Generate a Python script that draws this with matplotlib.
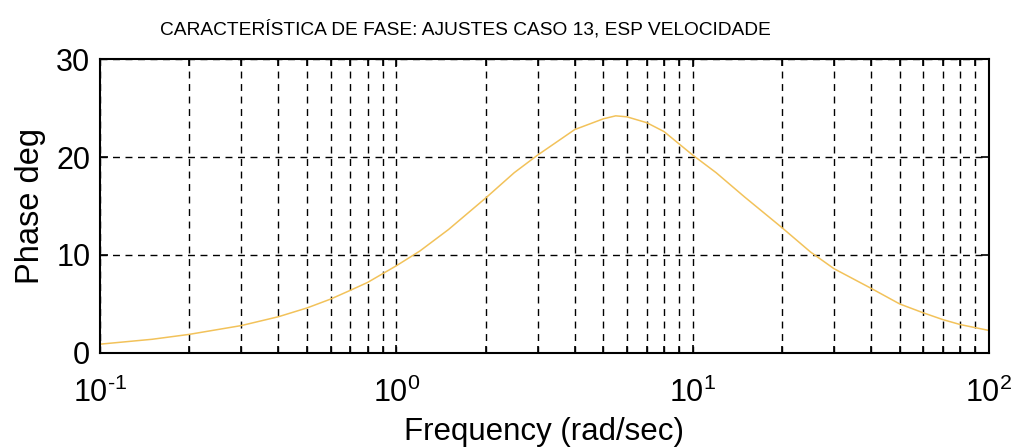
import numpy as np
import matplotlib.pyplot as plt
from matplotlib.ticker import FixedLocator, NullFormatter

plt.rcParams['font.family'] = ['Liberation Sans', 'DejaVu Sans']
plt.rcParams['mathtext.fontset'] = 'custom'
plt.rcParams['mathtext.rm'] = 'Liberation Sans'
plt.rcParams['mathtext.default'] = 'regular'

# phase curve
freq = [0.1, 0.15, 0.2, 0.3, 0.4, 0.5, 0.6, 0.7, 0.8, 1.0, 1.2, 1.5, 2.0, 2.5,
        3.0, 4.0, 5.0, 5.5, 6.0, 7.0, 8.0, 10, 12, 15, 20, 25, 30, 40, 50,
        60, 70, 80, 100]
phase = [0.9, 1.4, 1.9, 2.8, 3.7, 4.6, 5.5, 6.4, 7.2, 8.9, 10.4, 12.6, 15.8, 18.4,
         20.2, 22.8, 23.9, 24.2, 24.1, 23.5, 22.6, 20.2, 18.4, 15.9, 12.8, 10.3,
         8.6, 6.6, 5.0, 4.1, 3.4, 2.9, 2.3]

xticks = [0.1, 1, 10, 100]
xlabels = ['$10^{\\text{-}1}$', '$10^{0}$', '$10^{1}$', '$10^{2}$']
yticks = [0, 10, 20, 30]
minor = [m * d for d in [0.1, 1, 10] for m in range(2, 10)]

fig = plt.figure(figsize=(10.13, 4.47), dpi=100)
ax = fig.add_axes([0.0987, 0.2103, 0.8776, 0.6577])

ax.plot(freq, phase, color='#f2c25a', lw=1.1)

ax.set_xscale('log')
ax.set_xlim(0.1, 100)
ax.set_ylim(0, 30)
ax.set_xticks(xticks)
ax.set_xticklabels(xlabels)
ax.xaxis.set_minor_locator(FixedLocator(minor))
ax.xaxis.set_minor_formatter(NullFormatter())
ax.set_yticks(yticks)

dash = (0, (5, 4))
ax.grid(True, which='major', axis='both', color='black', lw=1.0, linestyle=dash)
ax.grid(True, which='minor', axis='x', color='black', lw=1.0, linestyle=dash)

ax.tick_params(which='both', direction='in', top=True, right=True, width=1.2)
ax.tick_params(which='major', length=6, labelsize=22)
ax.tick_params(which='minor', length=5)
ax.tick_params(axis='x', pad=18)
ax.tick_params(axis='y', pad=7)
for s in ax.spines.values():
    s.set_linewidth(1.5)

fig.text(0.459, 0.935, 'CARACTERÍSTICA DE FASE: AJUSTES CASO 13, ESP VELOCIDADE',
         ha='center', va='center', fontsize=13.8)
fig.text(0.537, 0.0, 'Frequency (rad/sec)', ha='center', va='bottom', fontsize=22.5)
fig.text(0.03, 0.54, 'Phase deg', ha='center', va='center', rotation=90, fontsize=23.5)

fig.savefig('out.png', dpi=100)
